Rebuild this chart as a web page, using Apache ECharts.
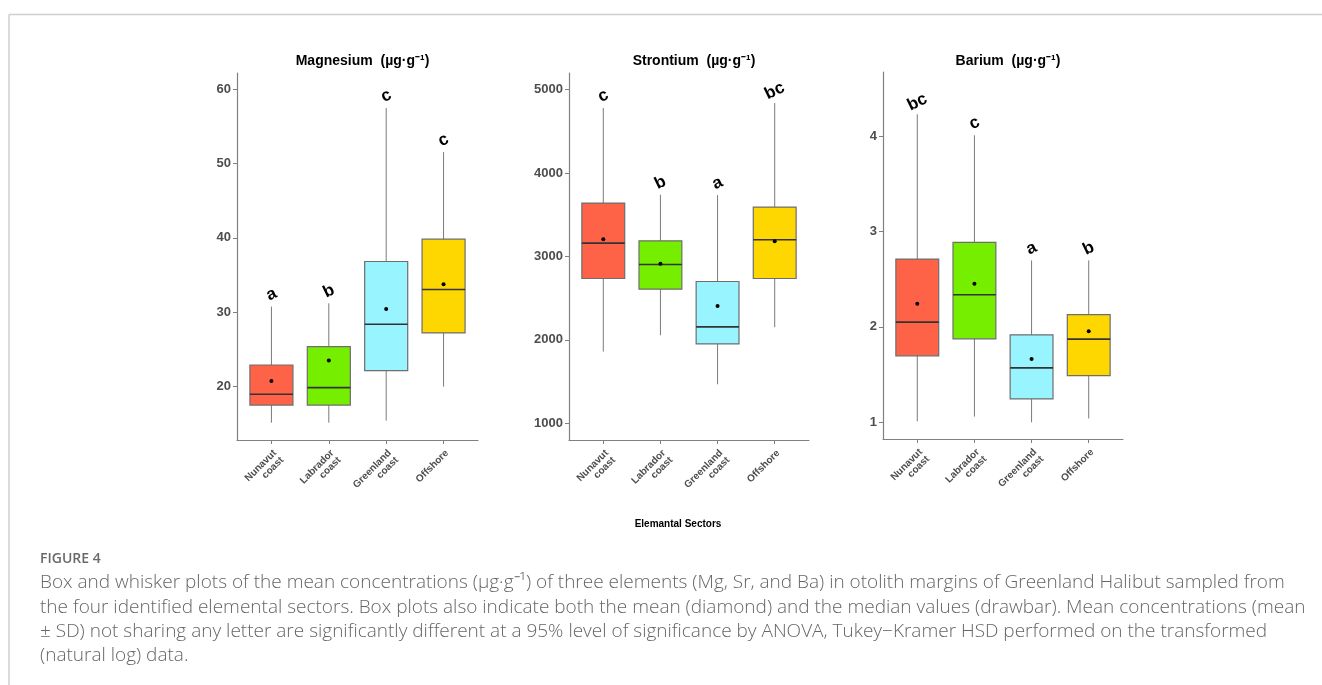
<!DOCTYPE html>
<html>
<head>
<meta charset="utf-8">
<script src="https://cdn.jsdelivr.net/npm/echarts@6/dist/echarts.min.js"></script>
<style>
  html, body { margin: 0; padding: 0; background: #fff; }
  #main { width: 1322px; height: 685px; }
</style>
</head>
<body>
<div id="main"></div>
<script>
// sectors (x categories)
var sectors = ['Nunavut\ncoast', 'Labrador\ncoast', 'Greenland\ncoast', 'Offshore'];

// box stats per sector: [min, Q1, median, Q3, max]
var mgBox = [
  [15.16, 17.53, 18.97, 22.91, 30.76],
  [15.16, 17.53, 19.87, 25.38, 31.2],
  [15.43, 22.15, 28.39, 36.82, 57.44],
  [20.0, 27.22, 33.05, 39.82, 51.52]
];
var mgMean = [20.76, 23.5, 30.45, 33.77];
var mgLetters = ['a', 'b', 'c', 'c'];
var mgTicks = [20, 30, 40, 50, 60];

var srBox = [
  [1860, 2736, 3160, 3640, 4780],
  [2056, 2608, 2904, 3188, 3740],
  [1468, 1952, 2156, 2700, 3736],
  [2152, 2736, 3200, 3592, 4840]
];
var srMean = [3208, 2912, 2408, 3184];
var srLetters = ['c', 'b', 'a', 'bc'];
var srTicks = [1000, 2000, 3000, 4000, 5000];

var baBox = [
  [1.01, 1.696, 2.049, 2.71, 4.227],
  [1.06, 1.874, 2.336, 2.885, 4.007],
  [1.0, 1.245, 1.57, 1.916, 2.696],
  [1.04, 1.49, 1.871, 2.129, 2.696]
];
var baMean = [2.241, 2.451, 1.664, 1.955];
var baLetters = ['bc', 'c', 'a', 'b'];
var baTicks = [1, 2, 3, 4];

var titles = ['Magnesium  (µg·g⁻¹)', 'Strontium  (µg·g⁻¹)', 'Barium  (µg·g⁻¹)'];
var xName = 'Elemantal Sectors';
var captionHead = 'FIGURE 4';
var captionLines = [
  'Box and whisker plots of the mean concentrations (µg·g⁻¹) of three elements (Mg, Sr, and Ba) in otolith margins of Greenland Halibut sampled from',
  'the four identified elemental sectors. Box plots also indicate both the mean (diamond) and the median values (drawbar). Mean concentrations (mean',
  '± SD) not sharing any letter are significantly different at a 95% level of significance by ANOVA, Tukey−Kramer HSD performed on the transformed',
  '(natural log) data.'
];

// styling / layout
var boxColors = ['#FF6347', '#76EE00', '#98F5FF', '#FFD700'];
var panels = [
  { box: mgBox, mean: mgMean, letters: mgLetters, ticks: mgTicks, min: 12.83, max: 62.15, left: 237, top: 73, width: 241, height: 367 },
  { box: srBox, mean: srMean, letters: srLetters, ticks: srTicks, min: 800, max: 5200, left: 569, top: 73, width: 240, height: 367 },
  { box: baBox, mean: baMean, letters: baLetters, ticks: baTicks, min: 0.825, max: 4.67, left: 883, top: 72, width: 240, height: 367 }
];
var axisGray = '#808080';
var labelGray = '#4d4d4d';
var fontFam = '"Liberation Sans", Arial, sans-serif';

function makeRender(panel) {
  return function (params, api) {
    var i = params.dataIndex;
    var x = api.value(0);
    var pMin = api.coord([x, api.value(1)]);
    var pQ1 = api.coord([x, api.value(2)]);
    var pMed = api.coord([x, api.value(3)]);
    var pQ3 = api.coord([x, api.value(4)]);
    var pMax = api.coord([x, api.value(5)]);
    var pMean = api.coord([x, api.value(6)]);
    var half = api.size([0.375, 0])[0];
    return {
      type: 'group',
      children: [
        { type: 'line', shape: { x1: pMin[0], y1: pMin[1], x2: pMax[0], y2: pMax[1] },
          style: { stroke: '#7a7a7a', lineWidth: 1 } },
        { type: 'rect', shape: { x: pQ3[0] - half, y: pQ3[1], width: half * 2, height: pQ1[1] - pQ3[1] },
          style: { fill: boxColors[i], stroke: '#6e6e6e', lineWidth: 1.2 } },
        { type: 'line', shape: { x1: pMed[0] - half, y1: pMed[1], x2: pMed[0] + half, y2: pMed[1] },
          style: { stroke: '#333333', lineWidth: 1.6 } },
        { type: 'circle', shape: { cx: pMean[0], cy: pMean[1], r: 2 },
          style: { fill: '#000' } },
        { type: 'text', x: pMax[0], y: pMax[1] - 12, rotation: 0.45,
          style: { text: panel.letters[i], fill: '#000', font: 'bold 17px ' + fontFam,
                   align: 'center', verticalAlign: 'middle' } }
      ]
    };
  };
}

var grid = [], xAxis = [], yAxis = [], series = [], title = [];
panels.forEach(function (p, k) {
  grid.push({ left: p.left, top: p.top, width: p.width, height: p.height });
  xAxis.push({
    type: 'value', gridIndex: k, min: 0.4, max: 4.6,
    splitLine: { show: false },
    axisLine: { show: true, lineStyle: { color: axisGray, width: 1.2 } },
    axisTick: { show: true, length: 4, customValues: [1, 2, 3, 4], lineStyle: { color: axisGray } },
    axisLabel: {
      customValues: [1, 2, 3, 4], rotate: 45, margin: 8, verticalAlign: 'top',
      color: labelGray, fontWeight: 'bold', fontSize: 10, lineHeight: 10, fontFamily: fontFam,
      formatter: function (v) { return sectors[Math.round(v) - 1]; }
    }
  });
  yAxis.push({
    type: 'value', gridIndex: k, min: p.min, max: p.max,
    splitLine: { show: false },
    axisLine: { show: true, lineStyle: { color: axisGray, width: 1.2 } },
    axisTick: { show: true, length: 4, customValues: p.ticks, lineStyle: { color: axisGray } },
    axisLabel: {
      customValues: p.ticks, margin: 6,
      color: labelGray, fontWeight: 'bold', fontSize: 13, fontFamily: fontFam,
      formatter: function (v) { return String(v); }
    }
  });
  series.push({
    type: 'custom', xAxisIndex: k, yAxisIndex: k,
    renderItem: makeRender(p),
    data: p.box.map(function (b, i) { return [i + 1].concat(b, [p.mean[i]]); }),
    clip: false, silent: true
  });
  title.push({
    text: titles[k], left: p.left + p.width / 2, top: 49, textAlign: 'center',
    textStyle: { fontFamily: fontFam, fontWeight: 'bold', fontSize: 14, color: '#000' }
  });
});

var graphic = [
  { type: 'line', shape: { x1: 9, y1: 14.5, x2: 1322, y2: 14.5 }, style: { stroke: '#cfcfcf', lineWidth: 1.5 } },
  { type: 'line', shape: { x1: 9, y1: 14.5, x2: 9, y2: 685 }, style: { stroke: '#cfcfcf', lineWidth: 1.5 } },
  { type: 'text', x: 678, y: 524, style: { text: xName, font: 'bold 10px ' + fontFam, fill: '#000', align: 'center', verticalAlign: 'middle' } },
  { type: 'text', x: 40, y: 559, style: { text: captionHead, font: '600 14px "Open Sans", sans-serif', fill: '#6a6a6a', verticalAlign: 'middle' } }
];
captionLines.forEach(function (line, i) {
  graphic.push({ type: 'text', x: 40, y: 583 + i * 24.3,
    style: { text: line, font: '300 19px "Open Sans", sans-serif', fill: '#666666', verticalAlign: 'middle' } });
});

var chart = echarts.init(document.getElementById('main'), null, { renderer: 'canvas' });
chart.setOption({
  animation: false,
  title: title,
  grid: grid,
  xAxis: xAxis,
  yAxis: yAxis,
  series: series,
  graphic: graphic
});
</script>
</body>
</html>
